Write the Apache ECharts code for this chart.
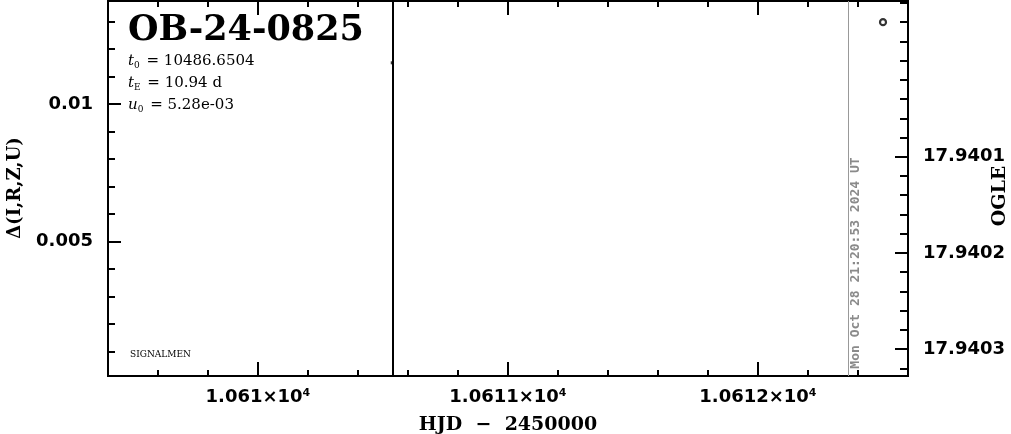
<!DOCTYPE html>
<html><head><meta charset="utf-8">
<script src="https://cdn.jsdelivr.net/npm/echarts@6/dist/echarts.min.js"></script>
<style>html,body{margin:0;padding:0;background:#fff}#c{width:1011px;height:434px}</style>
</head><body><div id="c"></div>
<script>
// ---- data ----
const eventName = 'OB-24-0825';
const paramSymbols = ['t', 't', 'u'];
const paramSubs = ['0', 'E', '0'];
const paramValues = ['10486.6504', '10.94 d', '5.28e-03'];
const xRange = [10609.4, 10612.6];
const xMajorTicks = [10610, 10611, 10612];
const xTickLabels = ['1.061×10⁴', '1.0611×10⁴', '1.0612×10⁴'];
const xMinorStep = 0.2;
const leftRange = [0.0001, 0.01375];
const leftMajorTicks = [0.005, 0.01];
const leftTickLabels = ['0.005', '0.01'];
const leftMinorStep = 0.001;
const rightRange = [17.939938, 17.940328];
const rightMajorTicks = [17.9401, 17.9402, 17.9403];
const rightTickLabels = ['17.9401', '17.9402', '17.9403'];
const rightMinorStep = 0.00002;
const ogleHJD = [10612.5];
const ogleMag = [17.93996];
const modelHJD = [10610.535];
const modelDelta = [0.0115];
const peakLineHJD = 10610.542;
const nowLineHJD = 10612.364;
const nowText = 'Mon Oct 28 21:20:53 2024 UT';
const xTitle = 'HJD  −  2450000';
const leftTitle = 'Δ(I,R,Z,U)';
const rightTitle = 'OGLE';
const footText = 'SIGNALMEN';

// ---- helpers ----
function steps(lo, hi, step) {
  const out = [];
  const k0 = Math.ceil(lo / step - 1e-9), k1 = Math.floor(hi / step + 1e-9);
  for (let k = k0; k <= k1; k++) out.push(+(k * step).toFixed(8));
  return out;
}
function lookup(v, vals, labels) {
  let best = 0;
  for (let i = 1; i < vals.length; i++) if (Math.abs(vals[i] - v) < Math.abs(vals[best] - v)) best = i;
  return labels[best];
}
const xMinor = steps(xRange[0], xRange[1], xMinorStep);
const leftMinor = steps(leftRange[0], leftRange[1], leftMinorStep);
const rightMinor = steps(rightRange[0], rightRange[1], rightMinorStep);

const black = '#000';
const tickFont = { fontFamily: 'DejaVu Sans', fontWeight: 'bold', fontSize: 18, color: black };

function xAx(pos, ticks, len, labels) {
  return {
    type: 'value', position: pos, min: xRange[0], max: xRange[1],
    axisLine: { show: false },
    axisTick: { show: true, inside: true, length: len, customValues: ticks, lineStyle: { color: black, width: 2 } },
    axisLabel: labels ? Object.assign({ show: true, customValues: ticks, margin: 12,
      formatter: v => lookup(v, xMajorTicks, xTickLabels) }, tickFont) : { show: false },
    splitLine: { show: false }
  };
}
function yAx(pos, range, ticks, len, labels, vals, inverse) {
  return {
    type: 'value', position: pos, min: range[0], max: range[1], inverse: !!inverse,
    axisLine: { show: false },
    axisTick: { show: true, inside: true, length: len, customValues: ticks, lineStyle: { color: black, width: 2 } },
    axisLabel: labels ? Object.assign({ show: true, customValues: ticks, margin: 15,
      formatter: v => lookup(v, vals, labels) }, tickFont) : { show: false },
    splitLine: { show: false }
  };
}

const paramGraphics = paramSymbols.map((s, i) => ({
  type: 'text', left: 128, top: 54 + i * 22,
  style: {
    text: '{i|' + s + '}{s|' + paramSubs[i] + '}{n| = ' + paramValues[i] + '}',
    rich: {
      i: { fontFamily: 'DejaVu Serif', fontStyle: 'italic', fontSize: 15, fill: black },
      s: { fontFamily: 'DejaVu Serif', fontSize: 9, fill: black, padding: [8, 2, 0, 0] },
      n: { fontFamily: 'DejaVu Serif', fontSize: 15, fill: black }
    }
  }
}));

const option = {
  animation: false,
  backgroundColor: '#fff',
  grid: { left: 108, right: 103, top: 1, bottom: 58, show: true, borderColor: black, borderWidth: 2, backgroundColor: 'transparent' },
  xAxis: [
    xAx('bottom', xMajorTicks, 14, true),
    xAx('bottom', xMinor, 6, false),
    xAx('top', xMajorTicks, 14, false),
    xAx('top', xMinor, 6, false)
  ],
  yAxis: [
    yAx('left', leftRange, leftMajorTicks, 13, leftTickLabels, leftMajorTicks, false),
    yAx('left', leftRange, leftMinor, 7, null, null, false),
    yAx('right', rightRange, rightMajorTicks, 13, rightTickLabels, rightMajorTicks, true),
    yAx('right', rightRange, rightMinor, 8, null, null, true)
  ],
  series: [
    {
      type: 'scatter', xAxisIndex: 0, yAxisIndex: 2,
      data: ogleHJD.map((x, i) => [x, ogleMag[i]]),
      symbol: 'circle', symbolSize: 6,
      itemStyle: { color: '#fff', borderColor: black, borderWidth: 2.2 }
    },
    {
      type: 'scatter', xAxisIndex: 0, yAxisIndex: 0,
      data: modelHJD.map((x, i) => [x, modelDelta[i]]),
      symbol: 'rect', symbolSize: [2, 3], itemStyle: { color: black },
      markLine: {
        silent: true, symbol: 'none', label: { show: false }, animation: false,
        data: [
          { xAxis: peakLineHJD, lineStyle: { color: black, width: 2, type: 'solid' } },
          { xAxis: nowLineHJD, lineStyle: { color: '#999', width: 1, type: 'solid' } }
        ]
      }
    }
  ],
  graphic: [
    { type: 'text', x: 128, y: 31, style: { text: eventName, fontFamily: 'DejaVu Serif', fontWeight: 'bold', fontSize: 35, fill: black, align: 'left', verticalAlign: 'middle' } },
    ...paramGraphics,
    { type: 'text', left: 130, top: 350, style: { text: footText, fontFamily: 'DejaVu Serif', fontSize: 9, fill: black } },
    { type: 'text', x: 15, y: 188, rotation: Math.PI / 2,
      style: { text: leftTitle, fontFamily: 'DejaVu Serif', fontWeight: 'bold', fontSize: 18, fill: black, align: 'center', verticalAlign: 'middle' } },
    { type: 'text', x: 1000, y: 196, rotation: Math.PI / 2,
      style: { text: rightTitle, fontFamily: 'DejaVu Serif', fontWeight: 'bold', fontSize: 19, fill: black, align: 'center', verticalAlign: 'middle' } },
    { type: 'text', x: 508, y: 425,
      style: { text: xTitle, fontFamily: 'DejaVu Serif', fontWeight: 'bold', fontSize: 19, fill: black, align: 'center', verticalAlign: 'middle' } },
    { type: 'text', x: 856, y: 263, rotation: Math.PI / 2,
      style: { text: nowText, fontFamily: 'DejaVu Sans Mono', fontWeight: 'bold', fontSize: 13, fill: '#8a8a8a', align: 'center', verticalAlign: 'middle' } }
  ]
};
const chart = echarts.init(document.getElementById('c'), null, { renderer: 'canvas' });
chart.setOption(option);
</script>
</body></html>
